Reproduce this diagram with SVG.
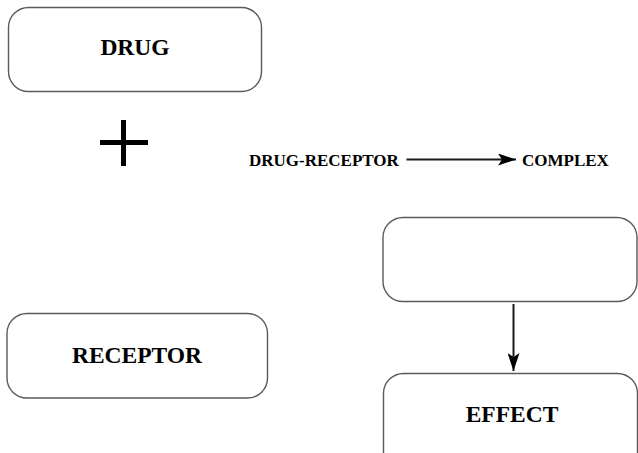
<svg xmlns="http://www.w3.org/2000/svg" width="638" height="453" viewBox="0 0 638 453">
  <style>
    .box { fill: #ffffff; stroke: #5a5a5a; stroke-width: 1.4; }
    .big { font-family: "Liberation Serif", "Times New Roman", serif; font-weight: bold; font-size: 23.5px; fill: #000; text-anchor: middle; }
    .small { font-family: "Liberation Serif", "Times New Roman", serif; font-weight: bold; font-size: 17px; fill: #000; }
    .link { stroke: #1a1a1a; stroke-width: 2; fill: none; }
  </style>
  <defs>
    <marker id="head" viewBox="0 0 18 12" refX="18" refY="6" markerWidth="18" markerHeight="12" markerUnits="userSpaceOnUse" orient="auto">
      <path d="M0,0 L18,6 L0,12 L4,6 Z" fill="#000"/>
    </marker>
  </defs>
  <rect width="638" height="453" fill="#ffffff"/>

  <g id="drug">
    <rect class="box" x="8.5" y="7.5" width="253" height="84" rx="20" ry="20"/>
    <text class="big" x="135" y="55">DRUG</text>
  </g>

  <g id="plus">
    <rect x="100" y="140" width="48" height="5" fill="#000"/>
    <rect x="121" y="120" width="5" height="46" fill="#000"/>
  </g>

  <g id="complex-label">
    <text class="small" x="249" y="166">DRUG-RECEPTOR</text>
    <text class="small" x="522" y="166">COMPLEX</text>
  </g>

  <g id="complex-box">
    <rect class="box" x="383" y="217.5" width="254" height="84" rx="20" ry="20"/>
  </g>

  <g id="receptor">
    <rect class="box" x="7" y="313.5" width="260.5" height="84.5" rx="20" ry="20"/>
    <text class="big" x="137" y="363">RECEPTOR</text>
  </g>

  <g id="effect">
    <rect class="box" x="383.5" y="373.5" width="254" height="100" rx="20" ry="20"/>
    <text class="big" x="512" y="422">EFFECT</text>
  </g>

  <g id="connectors">
    <line class="link" x1="406.5" y1="159.5" x2="516" y2="159.5" marker-end="url(#head)"/>
    <line class="link" x1="513.5" y1="304" x2="513.5" y2="371" marker-end="url(#head)"/>
  </g>
</svg>
